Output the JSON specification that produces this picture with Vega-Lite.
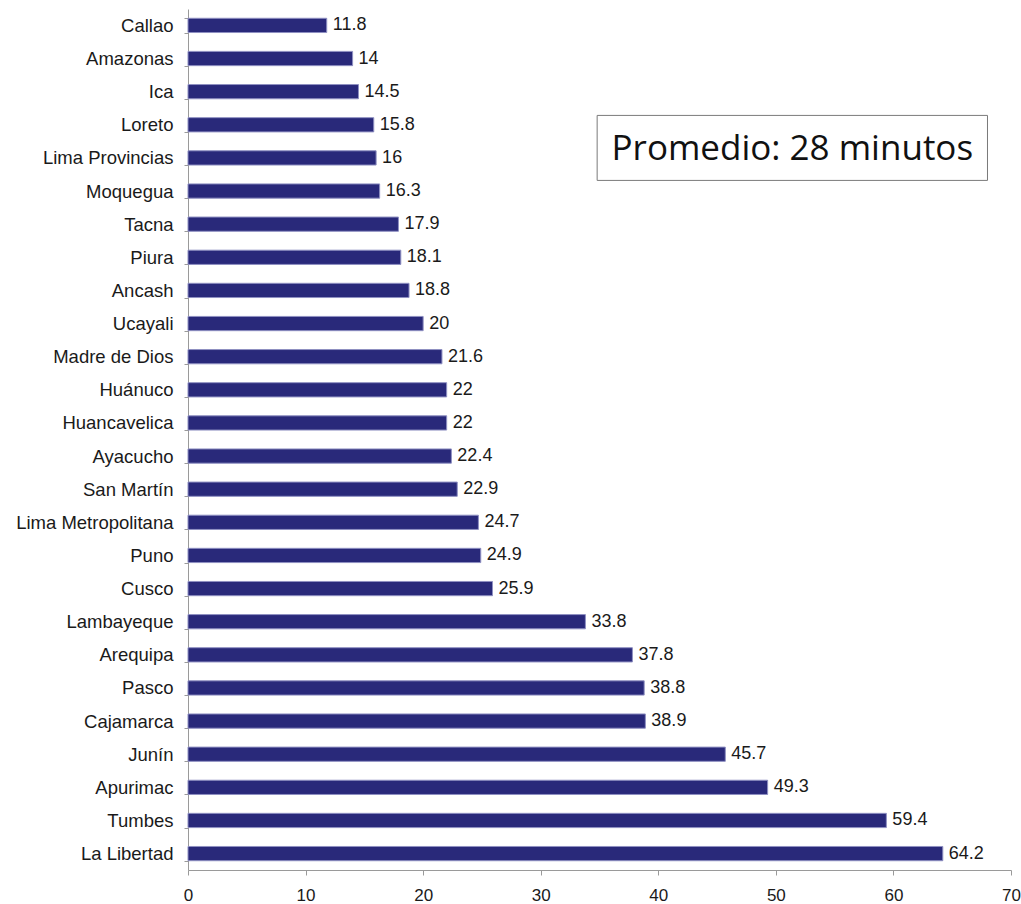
{
  "$schema": "https://vega.github.io/schema/vega-lite/v6.json",
  "width": 823,
  "height": 861,
  "padding": {"left": 188, "top": 9, "right": 10, "bottom": 34},
  "autosize": {"type": "none"},
  "background": "white",
  "config": {"view": {"stroke": null}},
  "datasets": {
    "tiempos": [
      {"region": "Callao", "minutos": 11.8},
      {"region": "Amazonas", "minutos": 14},
      {"region": "Ica ", "minutos": 14.5},
      {"region": "Loreto", "minutos": 15.8},
      {"region": "Lima Provincias", "minutos": 16},
      {"region": "Moquegua", "minutos": 16.3},
      {"region": "Tacna", "minutos": 17.9},
      {"region": "Piura", "minutos": 18.1},
      {"region": "Ancash", "minutos": 18.8},
      {"region": "Ucayali", "minutos": 20},
      {"region": "Madre de Dios", "minutos": 21.6},
      {"region": "Huánuco", "minutos": 22},
      {"region": "Huancavelica", "minutos": 22},
      {"region": "Ayacucho", "minutos": 22.4},
      {"region": "San Martín", "minutos": 22.9},
      {"region": "Lima Metropolitana", "minutos": 24.7},
      {"region": "Puno", "minutos": 24.9},
      {"region": "Cusco", "minutos": 25.9},
      {"region": "Lambayeque", "minutos": 33.8},
      {"region": "Arequipa", "minutos": 37.8},
      {"region": "Pasco", "minutos": 38.8},
      {"region": "Cajamarca", "minutos": 38.9},
      {"region": "Junín", "minutos": 45.7},
      {"region": "Apurimac", "minutos": 49.3},
      {"region": "Tumbes", "minutos": 59.4},
      {"region": "La Libertad", "minutos": 64.2}
    ],
    "nota": [
      {"region": "Lima Provincias", "texto": "Promedio: 28 minutos"}
    ]
  },
  "layer": [
    {
      "data": {"name": "tiempos"},
      "mark": {"type": "bar", "fill": "#29297a", "stroke": "#8f90c2", "strokeWidth": 1},
      "encoding": {
        "y": {
          "field": "region",
          "type": "nominal",
          "sort": null,
          "scale": {"paddingInner": 0.57, "paddingOuter": 0.28},
          "axis": {
            "title": null,
            "tickBand": "extent",
            "domainColor": "#9a9a9a",
            "tickColor": "#9a9a9a",
            "tickSize": 4,
            "labelFont": "Liberation Sans",
            "labelFontSize": 18.5,
            "labelColor": "#1a1a1a",
            "labelPadding": 11
          }
        },
        "x": {
          "field": "minutos",
          "type": "quantitative",
          "scale": {"domain": [0, 70], "nice": false},
          "axis": {
            "title": null,
            "values": [0, 10, 20, 30, 40, 50, 60, 70],
            "grid": false,
            "labelFlush": false,
            "domainColor": "#9a9a9a",
            "tickColor": "#9a9a9a",
            "tickSize": 5,
            "labelFont": "Liberation Sans",
            "labelFontSize": 17,
            "labelColor": "#1a1a1a",
            "labelPadding": 12
          }
        }
      }
    },
    {
      "data": {"name": "tiempos"},
      "mark": {"type": "text", "align": "left", "dx": 6, "font": "Liberation Sans", "fontSize": 18, "color": "#1a1a1a"},
      "encoding": {
        "y": {"field": "region", "type": "nominal", "sort": null},
        "x": {"field": "minutos", "type": "quantitative"},
        "text": {"field": "minutos", "type": "quantitative"}
      }
    },
    {
      "data": {"name": "nota"},
      "mark": {"type": "rect", "fill": "white", "stroke": "#7a7a7a", "strokeWidth": 1, "height": 65, "yOffset": -10},
      "encoding": {
        "y": {"field": "region", "type": "nominal", "sort": null},
        "x": {"datum": 34.8, "type": "quantitative"},
        "x2": {"datum": 68}
      }
    },
    {
      "data": {"name": "nota"},
      "mark": {"type": "text", "font": "Open Sans", "fontSize": 35, "color": "#111111", "align": "center", "baseline": "middle", "dy": -9},
      "encoding": {
        "y": {"field": "region", "type": "nominal", "sort": null},
        "x": {"datum": 51.4, "type": "quantitative"},
        "text": {"field": "texto", "type": "nominal"}
      }
    }
  ]
}
